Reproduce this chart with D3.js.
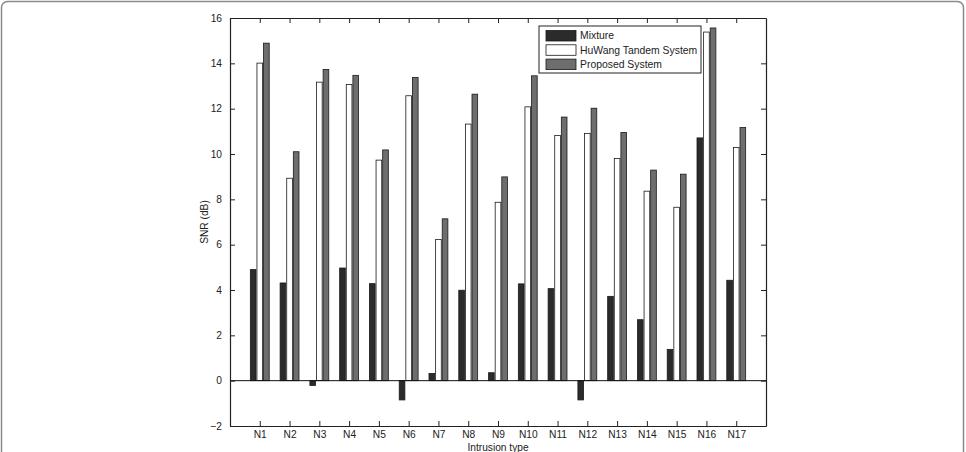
<!DOCTYPE html>
<html>
<head>
<meta charset="utf-8">
<script src="https://cdn.jsdelivr.net/npm/d3@7"></script>
<style>
  body { margin: 0; background: #fff; }
  svg { display: block; font-family: "Liberation Sans", Arial, sans-serif; }
</style>
</head>
<body>
<svg width="966" height="452"></svg>
<script>
var categories = ["N1", "N2", "N3", "N4", "N5", "N6", "N7", "N8", "N9", "N10", "N11", "N12", "N13", "N14", "N15", "N16", "N17"];
var seriesNames = ["Mixture", "HuWang Tandem System", "Proposed System"];
var mixture = [4.90, 4.31, -0.21, 4.97, 4.28, -0.85, 0.32, 3.99, 0.35, 4.27, 4.06, -0.85, 3.72, 2.69, 1.38, 10.71, 4.43];
var huwang = [14.01, 8.93, 13.17, 13.07, 9.73, 12.57, 6.23, 11.32, 7.87, 12.08, 10.82, 10.91, 9.80, 8.36, 7.65, 15.38, 10.29];
var proposed = [14.89, 10.10, 13.73, 13.47, 10.18, 13.38, 7.14, 12.64, 8.99, 13.45, 11.63, 12.02, 10.95, 9.29, 9.11, 15.56, 11.17];
var yTicks = [-2, 0, 2, 4, 6, 8, 10, 12, 14, 16];

var series = [mixture, huwang, proposed];
var fills = ["#2b2b2b", "#ffffff", "#6e6e6e"];

var svg = d3.select("svg");
var margin = {top: 18, right: 200, bottom: 26, left: 230};
var width = +svg.attr("width") - margin.left - margin.right;
var height = +svg.attr("height") - margin.top - margin.bottom;

// outer rounded frame
svg.append("rect")
  .attr("x", 1.5).attr("y", 1.5)
  .attr("width", 962).attr("height", 470)
  .attr("rx", 6)
  .attr("fill", "none")
  .attr("stroke", "#8a8a8a")
  .attr("stroke-width", 1.5);

var x = d3.scaleLinear().domain([0, 18]).range([0, width]);
var y = d3.scaleLinear().domain([-2, 16]).range([height, 0]);

var g = svg.append("g")
  .attr("transform", "translate(" + margin.left + "," + margin.top + ")");

var offsets = [-0.222, 0, 0.222];
var barW = 0.19;

series.forEach(function(vals, s) {
  g.selectAll(".bar" + s)
    .data(vals)
    .enter().append("rect")
    .attr("class", "bar" + s)
    .attr("x", function(d, i) { return x(i + 1 + offsets[s] - barW / 2); })
    .attr("y", function(d) { return y(Math.max(0, d)); })
    .attr("width", x(barW) - x(0))
    .attr("height", function(d) { return Math.abs(y(d) - y(0)); })
    .attr("fill", fills[s])
    .attr("stroke", "#1a1a1a")
    .attr("stroke-width", 0.8);
});

// baseline at zero
g.append("line")
  .attr("x1", 0).attr("x2", width)
  .attr("y1", y(0)).attr("y2", y(0))
  .attr("stroke", "#111").attr("stroke-width", 1);

var catIdx = categories.map(function(d, i) { return i + 1; });

g.append("g")
  .attr("class", "axis axis--x")
  .attr("transform", "translate(0," + height + ")")
  .call(d3.axisBottom(x).tickValues(catIdx)
    .tickFormat(function(d) { return categories[d - 1]; })
    .tickSizeInner(-5).tickSizeOuter(0).tickPadding(5));

g.append("g")
  .attr("class", "axis axis--top")
  .call(d3.axisTop(x).tickValues(catIdx).tickFormat("")
    .tickSizeInner(-5).tickSizeOuter(0));

g.append("g")
  .attr("class", "axis axis--y")
  .call(d3.axisLeft(y).tickValues(yTicks)
    .tickFormat(function(d) { return d < 0 ? "\u2212" + Math.abs(d) : d; })
    .tickSizeInner(-5).tickSizeOuter(0).tickPadding(8));

g.append("g")
  .attr("class", "axis axis--right")
  .attr("transform", "translate(" + width + ",0)")
  .call(d3.axisRight(y).tickValues(yTicks).tickFormat("")
    .tickSizeInner(-5).tickSizeOuter(0));

g.selectAll(".axis path").attr("stroke", "#222").attr("stroke-width", 1.2);
g.selectAll(".axis line").attr("stroke", "#222");
g.selectAll(".axis text").attr("fill", "#222").style("font-size", "10.2px")
  .style("font-family", "\"Liberation Sans\", Arial, sans-serif");

g.append("text")
  .attr("transform", "rotate(-90)")
  .attr("x", -height / 2)
  .attr("y", -22)
  .attr("text-anchor", "middle")
  .attr("fill", "#222")
  .style("font-size", "10.2px")
  .text("SNR (dB)");

g.append("text")
  .attr("x", width / 2)
  .attr("y", height + 25)
  .attr("text-anchor", "middle")
  .attr("fill", "#222")
  .style("font-size", "10.2px")
  .text("Intrusion type");

// legend
var lg = g.append("g").attr("transform", "translate(" + (539 - margin.left) + "," + (26 - margin.top) + ")");
lg.append("rect")
  .attr("width", 162).attr("height", 47)
  .attr("fill", "#fff").attr("stroke", "#222").attr("stroke-width", 1);
seriesNames.forEach(function(name, s) {
  lg.append("rect")
    .attr("x", 7).attr("y", 4.5 + s * 14.3)
    .attr("width", 30).attr("height", 10.5)
    .attr("fill", fills[s]).attr("stroke", "#1a1a1a").attr("stroke-width", 0.8);
  lg.append("text")
    .attr("x", 41).attr("y", 9.8 + s * 14.3)
    .attr("dy", "0.35em")
    .attr("fill", "#222")
    .style("font-size", "10.4px")
    .text(name);
});
</script>
</body>
</html>
